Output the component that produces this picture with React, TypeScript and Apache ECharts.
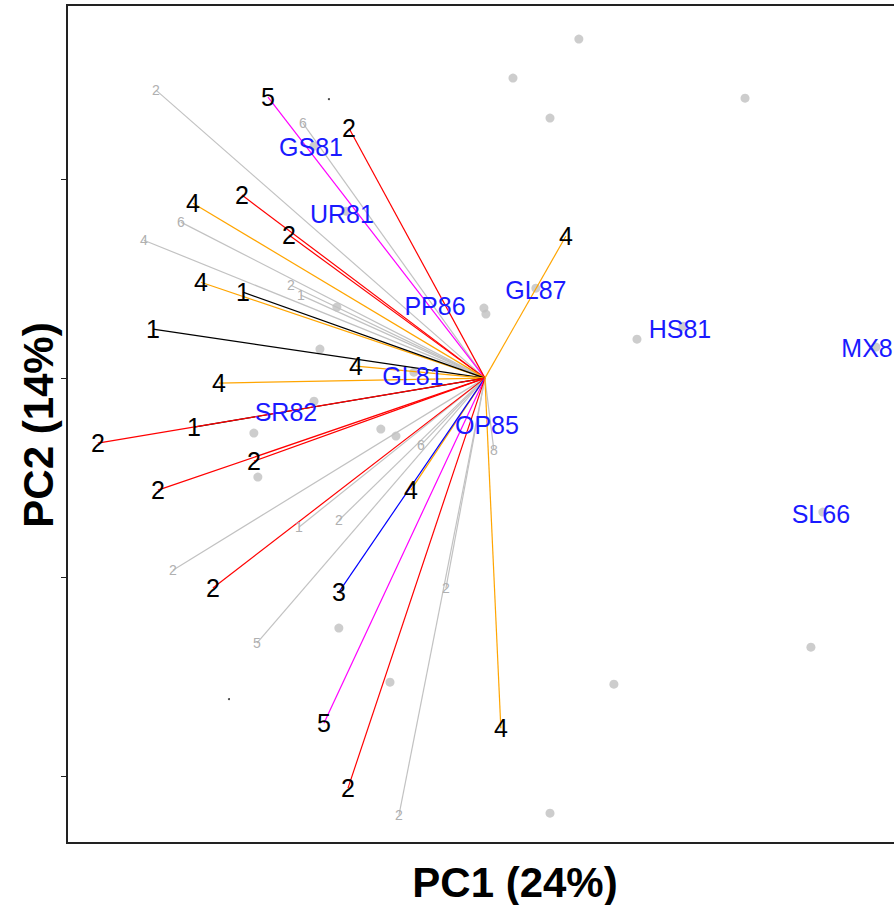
import React, { useEffect, useRef } from "react";
import * as echarts from "echarts";

// Background (grey) loading vectors
const minorLabels = ["2", "6", "6", "4", "2", "1", "8", "6", "2", "1", "2", "5", "2", "2"];
const minorX = [-1.653, -0.915, -1.528, -1.714, -0.975, -0.925, 0.045, -0.322, -0.734, -0.935, -1.568, -1.146, -0.196, -0.432];
const minorY = [1.447, 1.281, 0.784, 0.693, 0.467, 0.417, -0.362, -0.337, -0.714, -0.749, -0.965, -1.332, -1.055, -2.196];

// Highlighted loading vectors (group number shown at tip)
const majorLabels = ["5", "2", "2", "2", "4", "4", "1", "1", "4", "4", "1", "2", "2", "2", "2", "4", "3", "5", "2", "4", "4"];
const majorX = [-1.090, -0.683, -1.221, -0.985, -1.467, -1.427, -1.216, -1.668, -0.648, -1.337, -1.462, -1.945, -1.161, -1.643, -1.367, -0.372, -0.734, -0.809, -0.688, 0.080, 0.407];
const majorY = [1.412, 1.256, 0.920, 0.719, 0.879, 0.482, 0.432, 0.246, 0.060, -0.025, -0.246, -0.327, -0.417, -0.563, -1.055, -0.563, -1.075, -1.734, -2.060, -1.759, 0.714];

// Genotype scores (grey dots)
const scoreX = [0.472, 0.141, 0.327, 1.307, -0.005, 0.005, 0.764, 0.256, 0.995, 1.965, 1.698, 1.638, 0.648, 0.327, -0.859, -0.698, -0.744, -0.829, -0.859, -1.161, -1.141, -0.357, -0.523, -0.447, -0.734, -0.477];
const scoreY = [1.704, 1.508, 1.307, 1.407, 0.352, 0.322, 0.196, 0.452, 0.261, 0.156, -0.673, -1.352, -1.538, -2.186, 1.166, 0.839, 0.357, 0.146, -0.116, -0.276, -0.497, 0.030, -0.256, -0.291, -1.256, -1.528];

// Tiny black marks
const markX = [-0.784, -1.286];
const markY = [1.402, -1.613];

// Labelled genotypes
const genoNames = ["GS81", "UR81", "PP86", "GL87", "HS81", "MX8", "GL81", "SR82", "OP85", "SL66"];
const genoX = [-0.874, -0.719, -0.251, 0.256, 0.980, 1.920, -0.362, -1.000, 0.010, 1.688];
const genoY = [1.161, 0.824, 0.362, 0.442, 0.246, 0.151, 0.010, -0.171, -0.236, -0.683];

const yTicks = [-2, -1, 0, 1];
const xTitle = "PC1 (24%)";
const yTitle = "PC2 (14%)";

const groupColors: Record<string, string> = {
  "1": "#000000",
  "2": "#ff0000",
  "3": "#0000ff",
  "4": "#ffa500",
  "5": "#ff00ff",
};

const FONT = "'Liberation Sans', Arial, sans-serif";

export default function App() {
  const ref = useRef<HTMLDivElement>(null);

  useEffect(() => {
    if (!ref.current) return;
    const chart = echarts.init(ref.current, undefined, { renderer: "svg" });

    const minorLines = minorX.map((x, i) => ({
      coords: [[0, 0], [x, minorY[i]]],
      lineStyle: { color: "#c2c2c2", width: 1.2, opacity: 1 },
    }));
    const majorLines = majorX.map((x, i) => ({
      coords: [[0, 0], [x, majorY[i]]],
      lineStyle: { color: groupColors[majorLabels[i]], width: 1.2, opacity: 1 },
    }));

    const textSeries = (xs: number[], ys: number[], names: string[], color: string, size: number, z: number) => ({
      type: "scatter",
      silent: true,
      symbolSize: 1,
      itemStyle: { color: "rgba(0,0,0,0)" },
      data: xs.map((x, i) => ({ value: [x, ys[i]], name: names[i] })),
      label: {
        show: true,
        position: "inside",
        formatter: (p: any) => p.name,
        color,
        opacity: 1,
        fontSize: size,
        fontFamily: FONT,
        textBorderWidth: 0,
        textBorderColor: "transparent",
      },
      labelLayout: { hideOverlap: false },
      z,
    });

    chart.setOption({
      animation: false,
      grid: { left: 67, top: 5, right: 6, bottom: 62, show: true, borderColor: "#222", borderWidth: 2, backgroundColor: "transparent" },
      xAxis: {
        type: "value",
        min: -2.1,
        max: 2.558,
        axisLine: { show: false, onZero: false },
        axisTick: { show: false },
        axisLabel: { show: false },
        splitLine: { show: false },
      },
      yAxis: {
        type: "value",
        min: -2.336,
        max: 1.875,
        axisLine: { show: false, onZero: false },
        axisTick: { show: true, length: 6, lineStyle: { color: "#222", width: 1 }, customValues: yTicks },
        axisLabel: { show: false },
        splitLine: { show: false },
      },
      series: [
        {
          type: "scatter",
          silent: true,
          symbolSize: 9,
          itemStyle: { color: "#c0c0c0" },
          data: scoreX.map((x, i) => [x, scoreY[i]]),
          z: 1,
        },
        {
          type: "scatter",
          silent: true,
          symbolSize: 2,
          itemStyle: { color: "#000" },
          data: markX.map((x, i) => [x, markY[i]]),
          z: 1,
        },
        {
          type: "lines",
          coordinateSystem: "cartesian2d",
          silent: true,
          data: minorLines,
          z: 2,
        },
        {
          type: "lines",
          coordinateSystem: "cartesian2d",
          silent: true,
          data: majorLines,
          z: 3,
        },
        textSeries(minorX, minorY, minorLabels, "#b0b0b0", 14, 4),
        textSeries(majorX, majorY, majorLabels, "#000000", 25, 5),
        textSeries(genoX, genoY, genoNames, "#1a1aff", 25, 6),
      ],
      graphic: [
        {
          type: "text",
          x: 515,
          y: 882,
          style: {
            text: xTitle,
            fill: "#000",
            font: `bold 42px ${FONT}`,
            align: "center",
            verticalAlign: "middle",
            textAlign: "center",
            textVerticalAlign: "middle",
          },
        },
        {
          type: "text",
          x: 38,
          y: 425,
          rotation: Math.PI / 2,
          style: {
            text: yTitle,
            fill: "#000",
            font: `bold 42px ${FONT}`,
            align: "center",
            verticalAlign: "middle",
            textAlign: "center",
            textVerticalAlign: "middle",
          },
        },
      ],
    });

    return () => chart.dispose();
  }, []);

  return (
    <div style={{ position: "absolute", left: 0, top: 0, width: 894, height: 905, overflow: "hidden", background: "#fff" }}>
      <div ref={ref} style={{ width: 1000, height: 905 }} />
    </div>
  );
}
